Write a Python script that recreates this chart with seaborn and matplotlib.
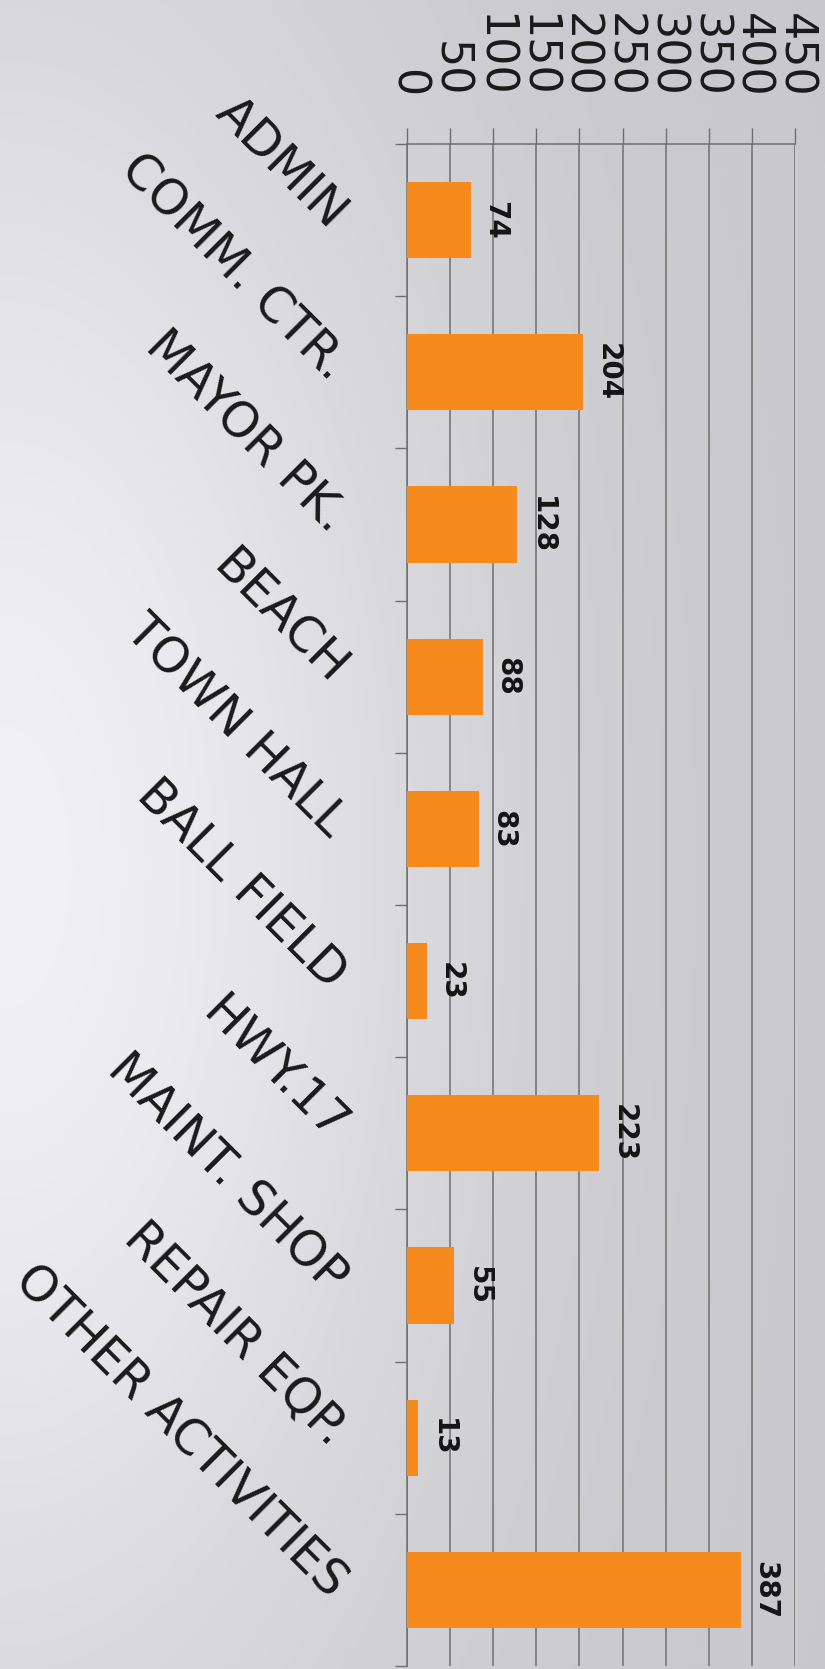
import numpy as np
import pandas as pd
import matplotlib
matplotlib.use("Agg")
import matplotlib.pyplot as plt
import seaborn as sns

# ---- data ----
categories = ["ADMIN", "COMM. CTR.", "MAYOR PK.", "BEACH", "TOWN HALL",
              "BALL FIELD", "HWY.17", "MAINT. SHOP", "REPAIR EQP.", "OTHER ACTIVITIES"]
values = [74, 204, 128, 88, 83, 23, 223, 55, 13, 387]
x_ticks = [0, 50, 100, 150, 200, 250, 300, 350, 400, 450]

df = pd.DataFrame({"category": categories, "value": values})

sns.set_theme(style="white")
plt.rcParams["font.family"] = ["DejaVu Sans"]

W, H = 825, 1669
fig = plt.figure(figsize=(W / 100, H / 100), dpi=100)

# photographed-paper background (bright spot on the left middle)
bg = fig.add_axes([0, 0, 1, 1], zorder=-10)
gx = np.linspace(0, 1, 200)[None, :]
gy = np.linspace(0, 1, 400)[:, None]
lum = 0.785 + 0.16 * np.exp(-((gx / 0.55) ** 2 + ((gy - 0.52) / 0.55) ** 2))
img = np.dstack([lum, lum, np.clip(lum + 0.015, 0, 1)])
bg.imshow(img, aspect="auto", extent=[0, 1, 0, 1], origin="upper")
bg.axis("off")

ax = fig.add_axes([407 / W, 1 - 1666 / H, 388 / W, (1666 - 144) / H], zorder=1)
ax.set_facecolor("none")

sns.barplot(data=df, x="value", y="category", orient="h", color="#F78A1D",
            width=0.5, saturation=1, linewidth=0, ax=ax, zorder=3)

grid_c = "#6f6f6f"
ax.set_xlim(0, 450)
ax.set_ylim(len(categories) - 0.5, -0.5)
ax.set_axisbelow(True)
ax.grid(axis="x", color=grid_c, linewidth=1.1)
ax.grid(axis="y", visible=False)
ax.set_xlabel("")
ax.set_ylabel("")

# value axis on top
ax.xaxis.tick_top()
ax.set_xticks(x_ticks)
ax.set_xticklabels([str(t) for t in x_ticks])
ax.tick_params(axis="x", which="major", direction="out", length=11.5, width=1.0,
               color=grid_c, pad=22, labelsize=32, labelcolor="#1a1a1a",
               labelrotation=-90, top=True, bottom=False)

# category axis
ax.set_yticks(range(len(categories)))
ax.set_yticks(np.arange(-0.5, len(categories), 1), minor=True)
ax.tick_params(axis="y", which="major", length=0, pad=49, labelsize=35,
               labelcolor="#1a1a1a", left=True)
ax.tick_params(axis="y", which="minor", length=9, width=1.0, color=grid_c, left=True)
for lbl in ax.get_yticklabels():
    lbl.set_rotation(-45)
    lbl.set_ha("right")
    lbl.set_va("center")
    lbl.set_rotation_mode("anchor")

for s in ["right", "bottom"]:
    ax.spines[s].set_visible(False)
for s in ["top", "left"]:
    ax.spines[s].set_visible(True)
    ax.spines[s].set_color(grid_c)
    ax.spines[s].set_linewidth(1.1)

# value labels
for i, v in enumerate(values):
    ax.annotate(str(v), xy=(v, i), xytext=(7.5, 0), textcoords="offset points",
                rotation=-90, ha="left", va="center", fontsize=20,
                fontweight="bold", color="#141414", zorder=5)

fig.savefig("out.png", dpi=100)
